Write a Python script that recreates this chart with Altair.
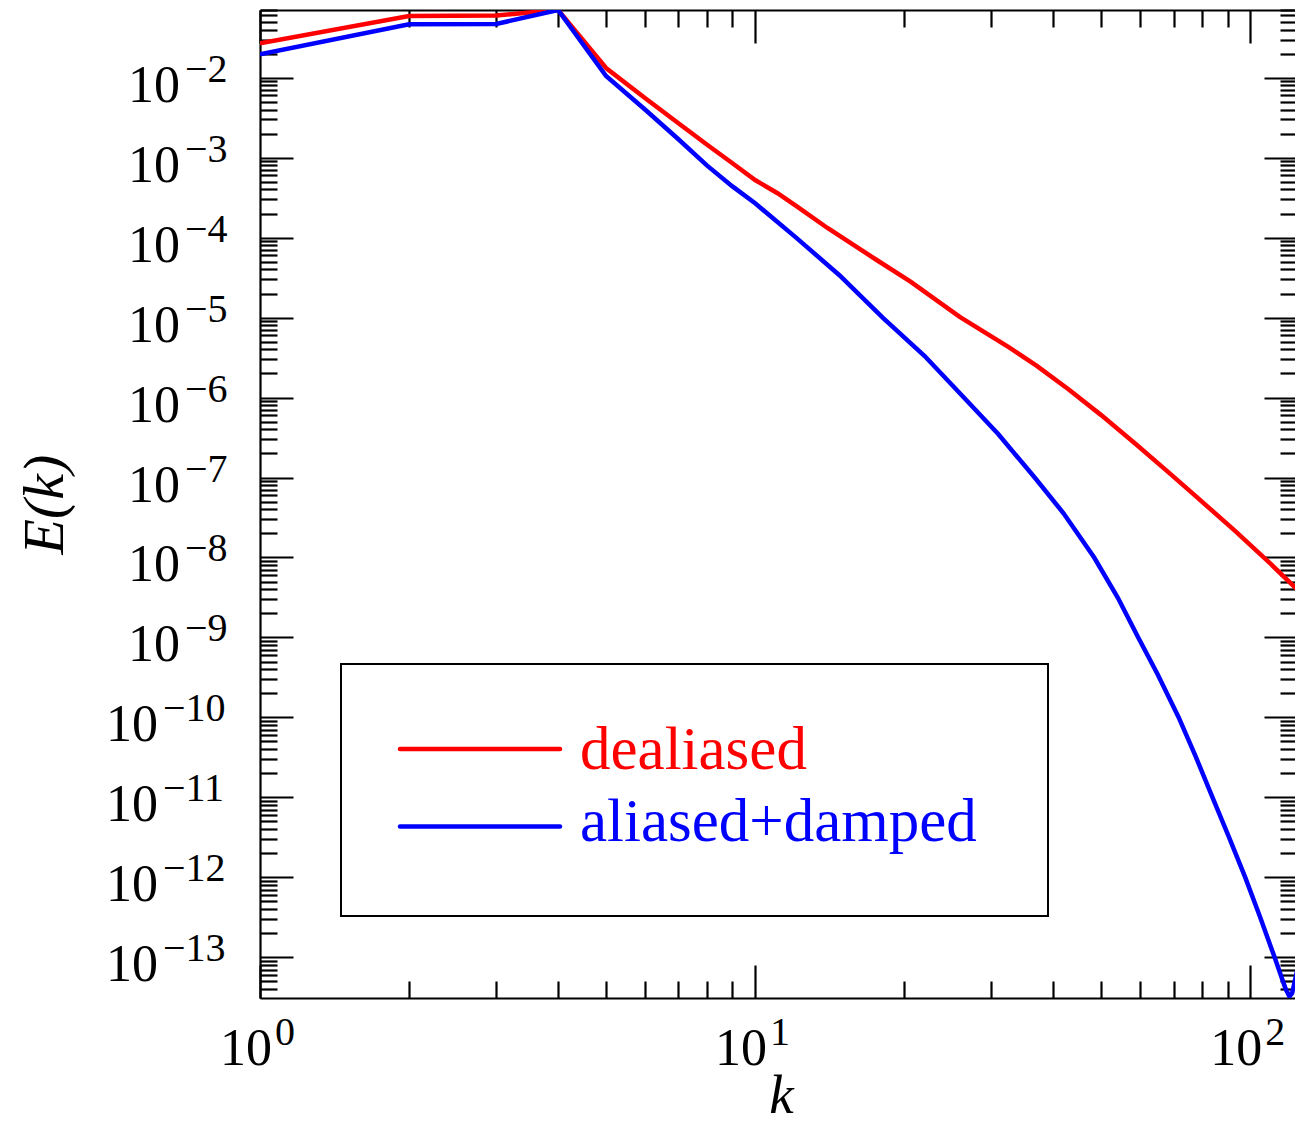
import altair as alt
import pandas as pd

# ---------------- data ----------------
k_red = [1, 2, 3, 4, 5, 6, 7, 8, 9, 10, 11.1, 12.2, 14, 17.6, 20.6, 25.9, 32.7, 37,
         43, 50, 58.7, 68.5, 77.5, 93.3, 110, 124.9, 127]
E_red = [2.69e-2, 5.9e-2, 6.0e-2, 7.02e-2, 1.32e-2, 5.52e-3, 2.69e-3, 1.45e-3, 8.5e-4,
         5.25e-4, 3.59e-4, 2.4e-4, 1.32e-4, 5.25e-5, 2.82e-5, 1.02e-5, 4.17e-6, 2.51e-6,
         1.26e-6, 6.03e-7, 2.63e-7, 1.15e-7, 5.89e-8, 2.14e-8, 8.3e-9, 3.89e-9, 3.6e-9]

k_blue = [1, 2, 3, 4, 5, 6, 7, 8, 9, 10, 12.1, 14.8, 18.1, 22, 26.4, 31, 36.7, 42,
          48.4, 54, 59.4, 65, 71.7, 77.5, 83.9, 90.5, 97.7, 104.6, 112, 116, 118, 120,
          121.5, 123, 125, 127]
E_blue = [1.96e-2, 4.65e-2, 4.7e-2, 7.02e-2, 1.05e-2, 3.98e-3, 1.70e-3, 7.94e-4, 4.37e-4,
          2.69e-4, 1.0e-4, 3.39e-5, 1.0e-5, 3.31e-6, 1.0e-6, 3.47e-7, 1.0e-7, 3.55e-8,
          1.0e-8, 3.16e-9, 1.0e-9, 3.47e-10, 1.0e-10, 3.31e-11, 1.0e-11, 3.24e-12,
          1.0e-12, 3.24e-13, 1.0e-13, 5.37e-14, 3.98e-14, 3.24e-14, 3.55e-14, 5.0e-14,
          7.94e-14, 1.26e-13]

series_names = ["dealiased", "aliased+damped"]
series_colors = ["#ff0000", "#0000ff"]

x_domain = [1, 124.3]
y_domain = [3.1e-14, 0.0702]

x_major = [1, 10, 100]
x_major_exp = ["0", "1", "2"]
x_minor = [2, 3, 4, 5, 6, 7, 8, 9, 20, 30, 40, 50, 60, 70, 80, 90]

y_major_exp_num = [2, 3, 4, 5, 6, 7, 8, 9, 10, 11, 12, 13]
y_major = [10.0 ** (-e) for e in y_major_exp_num]
y_major_exp = ["\u2212" + str(e) for e in y_major_exp_num]
y_minor = [m * 10.0 ** e for e in range(-14, -1) for m in range(2, 10)
           if y_domain[0] <= m * 10.0 ** e <= y_domain[1]]

FONT = "Liberation Serif"

df_red = pd.DataFrame({"k": k_red, "E": E_red})
df_blue = pd.DataFrame({"k": k_blue, "E": E_blue})

xs = alt.Scale(type="log", domain=x_domain, nice=False)
ys = alt.Scale(type="log", domain=y_domain, nice=False)


def tick_axis(orient, values, size):
    return alt.Axis(orient=orient, values=values, tickSize=size, offset=-size,
                    domain=False, labels=False, grid=False, ticks=True,
                    tickColor="black", tickWidth=2.2, title=None)


def ghost(xaxis, yaxis):
    return alt.Chart(df_red).mark_line(opacity=0).encode(
        x=alt.X("k:Q", scale=xs, axis=xaxis),
        y=alt.Y("E:Q", scale=ys, axis=yaxis),
    )


red_line = alt.Chart(df_red).mark_line(color=series_colors[0], strokeWidth=4.5, clip=True).encode(
    x=alt.X("k:Q", scale=xs, axis=tick_axis("bottom", x_major, 33)),
    y=alt.Y("E:Q", scale=ys, axis=tick_axis("left", y_major, 33)),
)
blue_line = alt.Chart(df_blue).mark_line(color=series_colors[1], strokeWidth=4.5, clip=True).encode(
    x=alt.X("k:Q", scale=xs, axis=tick_axis("bottom", x_minor, 17)),
    y=alt.Y("E:Q", scale=ys, axis=tick_axis("left", y_minor, 17)),
)

g_top_right_major = ghost(tick_axis("top", x_major, 33), tick_axis("right", y_major, 33))
g_top_right_minor = ghost(tick_axis("top", x_minor, 17), tick_axis("right", y_minor, 17))

frame_x = alt.Axis(orient="bottom", domain=True, domainColor="black", domainWidth=2.2,
                   ticks=False, labels=False, grid=False, title="k",
                   titleFont=FONT, titleFontSize=55, titleFontStyle="italic",
                   titleFontWeight="normal", titleColor="black",
                   titleBaseline="alphabetic", titleY=114, titleX=521)
frame_y = alt.Axis(orient="left", domain=True, domainColor="black", domainWidth=2.2,
                   ticks=False, labels=False, grid=False, title="E(k)",
                   titleFont=FONT, titleFontSize=58, titleFontStyle="italic",
                   titleFontWeight="normal", titleColor="black", titleAngle=270,
                   titleBaseline="alphabetic", titleAlign="center",
                   titleX=-198, titleY=494)
g_frame = ghost(frame_x, frame_y)
g_frame_top = ghost(alt.Axis(orient="top", domain=True, domainColor="black", domainWidth=2.2,
                             ticks=False, labels=False, grid=False, title=None), None)

# ---------------- tick labels (10 with raised exponent) ----------------
df_ylab = pd.DataFrame({
    "val": y_major,
    "base": ["10"] * len(y_major),
    "exp": y_major_exp,
    "ndig": [len(str(e)) for e in y_major_exp_num],
})
df_xlab = pd.DataFrame({"val": x_major, "base": ["10"] * len(x_major), "exp": x_major_exp})

ylayers = []
for nd, base_right in [(1, -80), (2, -102)]:
    src = alt.Chart(df_ylab).transform_filter(f"datum.ndig == {nd}")
    ylayers.append(src.mark_text(align="right", baseline="alphabetic", dy=24, font=FONT,
                                 fontSize=52, color="black").encode(
        y=alt.Y("val:Q", scale=ys, axis=None), x=alt.value(base_right), text="base:N"))
    ylayers.append(src.mark_text(align="left", baseline="alphabetic", dy=4, font=FONT,
                                 fontSize=40, color="black").encode(
        y=alt.Y("val:Q", scale=ys, axis=None), x=alt.value(base_right + 5), text="exp:N"))

xbase = alt.Chart(df_xlab).mark_text(align="right", baseline="alphabetic", dx=12, font=FONT,
                                     fontSize=52, color="black").encode(
    x=alt.X("val:Q", scale=xs, axis=None), y=alt.value(1055), text="base:N")
xexp = alt.Chart(df_xlab).mark_text(align="left", baseline="alphabetic", dx=15, font=FONT,
                                    fontSize=40, color="black").encode(
    x=alt.X("val:Q", scale=xs, axis=None), y=alt.value(1035), text="exp:N")

# ---------------- legend ----------------
dummy = pd.DataFrame({"a": [0]})
leg_box = alt.Chart(dummy).mark_rect(fill="white", stroke="black", strokeWidth=2).encode(
    x=alt.value(81), x2=alt.value(788), y=alt.value(654), y2=alt.value(906))
leg_layers = [leg_box]
for name, col, ly, ty in zip(series_names, series_colors, [739, 816.5], [759, 830.5]):
    leg_layers.append(alt.Chart(dummy).mark_rule(color=col, strokeWidth=4.5, strokeCap="round").encode(
        x=alt.value(140), x2=alt.value(300), y=alt.value(ly)))
    leg_layers.append(alt.Chart(dummy).mark_text(text=name, color=col, font=FONT, fontSize=61,
                                                 align="left", baseline="alphabetic").encode(
        x=alt.value(320), y=alt.value(ty)))

chart = alt.layer(
    red_line, blue_line, g_top_right_major, g_top_right_minor, g_frame, g_frame_top,
    *ylayers, xbase, xexp, *leg_layers
).resolve_scale(x="shared", y="shared").resolve_axis(
    x="independent", y="independent"
).properties(
    width=1037, height=988,
    padding={"left": 252, "top": 2, "right": -2, "bottom": 126},
    autosize=alt.AutoSizeParams(type="none"),
).configure_view(stroke=None)

chart.save("out.html", embed_options={"renderer": "svg", "actions": False})
